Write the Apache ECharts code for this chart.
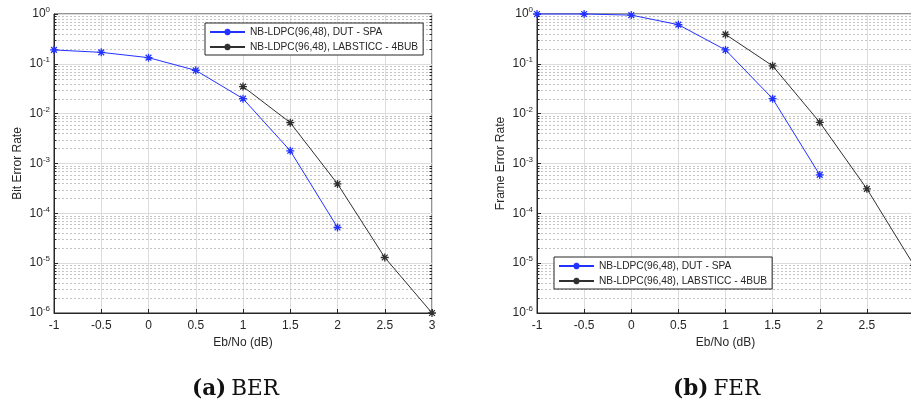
<!DOCTYPE html>
<html>
<head>
<meta charset="utf-8">
<script src="https://cdn.jsdelivr.net/npm/echarts@6/dist/echarts.min.js"></script>
<style>
html,body{margin:0;padding:0;background:#fff;}
#c{width:911px;height:403px;}
</style>
</head>
<body>
<div id="c"></div>
<script>
// ---- data ----
var ebnoDut = [-1, -0.5, 0, 0.5, 1, 1.5, 2];
var ebnoLab = [1, 1.5, 2, 2.5, 3];
var berDut = [0.19, 0.17, 0.133, 0.074, 0.020, 0.0018, 5.2e-5];
var berLab = [0.035, 0.0066, 3.9e-4, 1.3e-5, 1.0e-6];
var ferDut = [1.0, 1.0, 0.95, 0.61, 0.19, 0.020, 5.9e-4];
var ferLab = [0.39, 0.091, 0.0067, 3.1e-4, 9e-6];
var nameDut = 'NB-LDPC(96,48), DUT - SPA';
var nameLab = 'NB-LDPC(96,48), LABSTICC - 4BUB';
var captions = [['(a)', 'BER'], ['(b)', 'FER']];
var yNames = ['Bit Error Rate', 'Frame Error Rate'];
var xName = 'Eb/No (dB)';

function pairs(xs, ys) { return xs.map(function (x, i) { return [x, ys[i]]; }); }

// minor log grid positions (2..9 x 10^k)
var minorVals = [];
for (var k = -6; k <= -1; k++) for (var m = 2; m <= 9; m++) minorVals.push(m * Math.pow(10, k));

var FONT = 'Liberation Sans';
var TXT = '#262626';
var BLUE = '#2233ff';
var BLACK = '#303030';
var star = 'path://M0,-5L0,5M-5,0L5,0M-3.6,-3.6L3.6,3.6M-3.6,3.6L3.6,-3.6';

function xAxis(gi) {
  return {
    type: 'value', gridIndex: gi, min: -1, max: 3, interval: 0.5,
    name: xName, nameLocation: 'middle', nameGap: 22,
    nameTextStyle: { fontFamily: FONT, fontSize: 12, color: TXT },
    axisLine: { show: true, onZero: false, lineStyle: { color: TXT, width: 1 } },
    axisTick: { show: true, inside: true, length: 4, lineStyle: { color: TXT } },
    axisLabel: { fontFamily: FONT, fontSize: 12, color: TXT, margin: 7 },
    splitLine: { show: true, lineStyle: { color: '#dcdcdc', width: 1 } }
  };
}
function yAxis(gi) {
  return {
    type: 'log', logBase: 10, gridIndex: gi, min: 1e-6, max: 1, interval: 1,
    name: yNames[gi], nameLocation: 'middle', nameGap: 30, nameRotate: 90,
    nameTextStyle: { fontFamily: FONT, fontSize: 12, color: TXT },
    axisLine: { show: true, onZero: false, lineStyle: { color: TXT, width: 1 } },
    axisTick: { show: true, inside: true, length: 4, lineStyle: { color: TXT } },
    axisLabel: {
      margin: 4, color: TXT,
      formatter: function (v) {
        var e = Math.round(Math.log(v) / Math.LN10);
        return '{b|10}{e|' + e + '}';
      },
      rich: {
        b: { fontFamily: FONT, fontSize: 12, color: TXT },
        e: { fontFamily: FONT, fontSize: 8, color: TXT, verticalAlign: 'bottom', padding: [0, 0, 8, 0] }
      }
    },
    splitLine: { show: true, lineStyle: { color: '#dcdcdc', width: 1 } }
  };
}
function minorSeries(gi) {
  return {
    type: 'custom', xAxisIndex: gi, yAxisIndex: gi, silent: true, z: 1,
    animation: false, clip: false,
    data: minorVals.map(function (v) { return [-1, v]; }),
    encode: { x: 0, y: 1 },
    renderItem: function (params, api) {
      var cs = params.coordSys;
      var p = api.coord([api.value(0), api.value(1)]);
      var y = Math.round(p[1]) + 0.5;
      return {
        type: 'group',
        children: [
          { type: 'line', shape: { x1: cs.x, y1: y, x2: cs.x + cs.width, y2: y },
            style: { stroke: '#c4c4c4', lineWidth: 1, lineDash: [2, 2] } },
          { type: 'line', shape: { x1: cs.x, y1: y, x2: cs.x + 2.5, y2: y },
            style: { stroke: TXT, lineWidth: 1 } },
          { type: 'line', shape: { x1: cs.x + cs.width - 2.5, y1: y, x2: cs.x + cs.width, y2: y },
            style: { stroke: TXT, lineWidth: 1 } }
        ]
      };
    }
  };
}
function dataSeries(gi, name, xs, ys, col) {
  return {
    type: 'line', name: name, xAxisIndex: gi, yAxisIndex: gi, z: 5,
    data: pairs(xs, ys), clip: false, animation: false,
    symbol: star, symbolSize: 8,
    lineStyle: { color: col, width: 1 },
    itemStyle: { color: col, borderColor: col, borderWidth: 1.3 }
  };
}
function legend(left, top) {
  return {
    data: [nameDut, nameLab], orient: 'vertical', left: left, top: top,
    backgroundColor: '#fff', borderColor: TXT, borderWidth: 1,
    padding: [4, 5, 3, 4], itemGap: 5, itemWidth: 35, itemHeight: 8,
    selectedMode: false,
    textStyle: { fontFamily: FONT, fontSize: 10.2, color: TXT }
  };
}
function caption(i, left) {
  return {
    text: '{a|' + captions[i][0] + '} {n|' + captions[i][1] + '}',
    left: left, top: 378, padding: 0,
    textStyle: {
      fontWeight: 'normal',
      rich: {
        a: { fontFamily: 'DejaVu Serif', fontWeight: 'bold', fontSize: 21.5, color: '#111' },
        n: { fontFamily: 'DejaVu Serif', fontWeight: 'normal', fontSize: 21.5, color: '#111' }
      }
    }
  };
}

var chart = echarts.init(document.getElementById('c'));
chart.setOption({
  backgroundColor: '#fff',
  animation: false,
  title: [caption(0, 192), caption(1, 673)],
  grid: [
    { left: 54, top: 14, width: 378, height: 299, outerBoundsMode: 'none', containLabel: false, show: true, borderColor: TXT, borderWidth: 1, backgroundColor: 'transparent' },
    { left: 537, top: 14, width: 377, height: 299, outerBoundsMode: 'none', containLabel: false, show: true, borderColor: TXT, borderWidth: 1, backgroundColor: 'transparent' }
  ],
  legend: [legend(205, 23), legend(554, 257)],
  xAxis: [xAxis(0), xAxis(1)],
  yAxis: [yAxis(0), yAxis(1)],
  series: [
    minorSeries(0), minorSeries(1),
    dataSeries(0, nameDut, ebnoDut, berDut, BLUE),
    dataSeries(0, nameLab, ebnoLab, berLab, BLACK),
    dataSeries(1, nameDut, ebnoDut, ferDut, BLUE),
    dataSeries(1, nameLab, ebnoLab, ferLab, BLACK)
  ]
});
</script>
</body>
</html>
